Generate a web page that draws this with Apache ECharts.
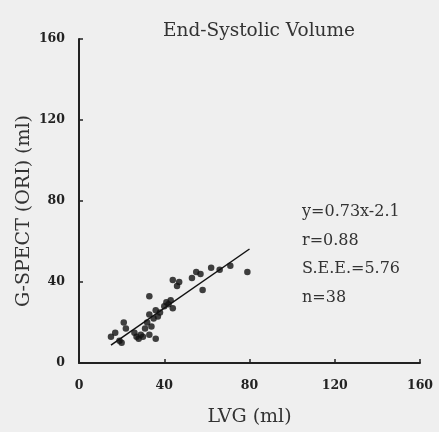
<!DOCTYPE html>
<html>
<head>
<meta charset="utf-8">
<script src="https://cdn.jsdelivr.net/npm/echarts@6/dist/echarts.min.js"></script>
<style>
  html, body { margin: 0; padding: 0; background: #efefef; }
  #chart { width: 439px; height: 432px; }
</style>
</head>
<body>
<div id="chart"></div>
<script>
// LVG (ml) vs G-SPECT (ORI) (ml), end-systolic volume
var lvg = [15, 17, 19, 20, 21, 22, 26, 27, 28, 29, 30, 31, 32, 33, 33, 33, 34, 35, 36,
           36, 37, 38, 40, 41, 42, 43, 44, 44, 46, 47, 53, 55, 57, 58, 62, 66, 71, 79];
var spect = [13, 15, 11, 10, 20, 17, 15, 13, 12, 14, 13, 17, 20, 14, 24, 33, 18, 22, 12,
             26, 23, 25, 28, 30, 29, 31, 27, 41, 38, 40, 42, 45, 44, 36, 47, 46, 48, 45];
var slope = 0.73, intercept = -2.1;
var fitRange = [15, 80];
var statLines = ['y=0.73x-2.1', 'r=0.88', 'S.E.E.=5.76', 'n=38'];
var yName = 'G-SPECT (ORI) (ml)';

var points = lvg.map(function (x, i) { return [x, spect[i]]; });
var fitLine = fitRange.map(function (x) { return [x, slope * x + intercept]; });

var serif = '"DejaVu Serif", "Liberation Serif", serif';
var ink = '#222';

function axisCommon() {
    return {
        type: 'value',
        min: 0, max: 160, interval: 40,
        splitLine: {show: false},
        axisLine: {show: true, lineStyle: {color: ink, width: 2}},
        axisTick: {show: true, inside: true, length: 4, lineStyle: {color: ink, width: 1.5}},
        axisLabel: {fontFamily: serif, fontWeight: 'bold', fontSize: 12.5, color: ink}
    };
}

var chart = echarts.init(document.getElementById('chart'));
var xAxis = axisCommon();
xAxis.name = 'LVG (ml)';
xAxis.nameLocation = 'middle';
xAxis.nameGap = 45;
xAxis.nameTextStyle = {fontFamily: serif, fontSize: 19, color: '#333'};
xAxis.axisLabel.margin = 16;

var yAxis = axisCommon();
yAxis.axisLabel.margin = 14;

var graphics = statLines.map(function (t, i) {
    return {
        type: 'text', x: 302, y: 212 + i * 28.5,
        style: {text: t, font: '16px ' + serif, fill: '#333', verticalAlign: 'middle'}
    };
});
// y axis title placed a bit below the axis middle, as in the original
graphics.push({
    type: 'text', x: 24, y: 211, rotation: Math.PI / 2,
    style: {text: yName, font: '19px ' + serif, fill: '#333', align: 'center', verticalAlign: 'middle'}
});

chart.setOption({
    backgroundColor: '#efefef',
    animation: false,
    title: {
        text: 'End-Systolic Volume',
        left: 254, top: 17, textAlign: 'center',
        textStyle: {fontFamily: serif, fontSize: 18.5, fontWeight: 'normal', color: '#333'}
    },
    grid: {left: 79, right: 19, top: 39, bottom: 69},
    xAxis: xAxis,
    yAxis: yAxis,
    graphic: graphics,
    series: [
        {
            type: 'scatter',
            data: points,
            symbolSize: 6.5,
            itemStyle: {color: '#111'}
        },
        {
            type: 'line',
            data: fitLine,
            symbol: 'none',
            lineStyle: {color: '#111', width: 1.5}
        }
    ]
});
</script>
</body>
</html>
